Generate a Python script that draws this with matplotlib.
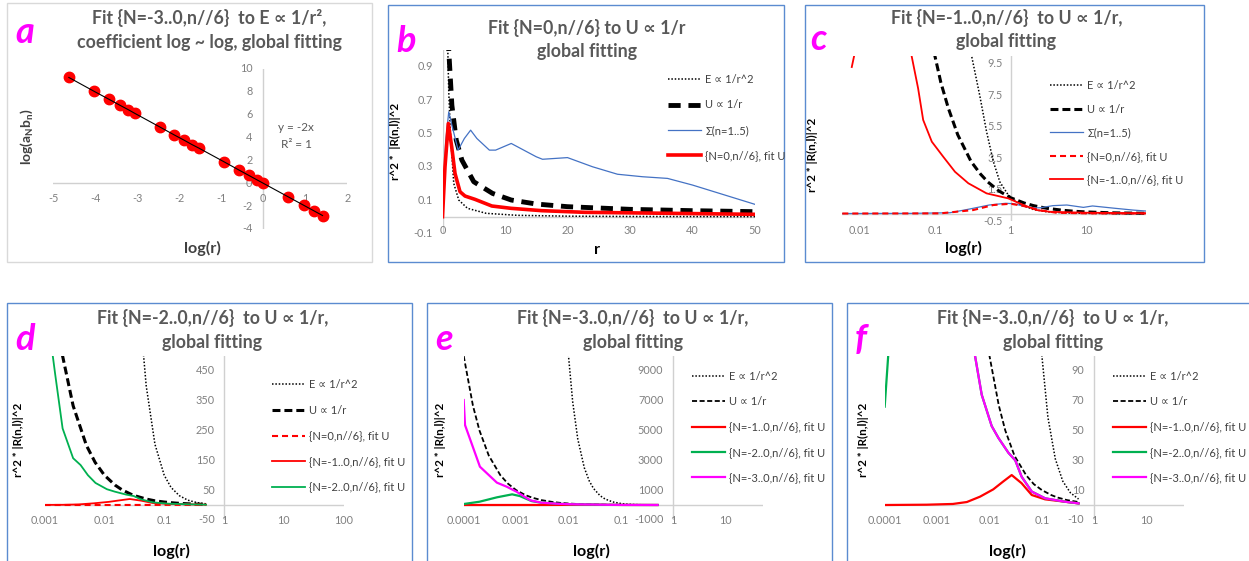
import matplotlib
matplotlib.use('Agg')
import matplotlib.pyplot as plt
from matplotlib.patches import Rectangle

W, H = 1249, 561
plt.rcParams['font.family'] = ['Lato', 'DejaVu Sans']
plt.rcParams['mathtext.fontset'] = 'custom'
plt.rcParams['mathtext.rm'] = 'Lato'
plt.rcParams['mathtext.bf'] = 'Lato:bold'
plt.rcParams['mathtext.it'] = 'Lato:italic'

TICK = '#808080'
TITLE = '#595959'
LEG = '#404040'
AXLINE = '#D0D0D0'
RED, GREEN, MAG, BLUE = '#FF0000', '#00B050', '#FF00FF', '#4472C4'

# ---- panel a : log(a_N b_n) vs log(r)
a_logr = [-4.63, -4.04, -3.67, -3.41, -3.22, -3.06, -2.47, -2.13, -1.89, -1.70,
          -1.53, -0.93, -0.58, -0.35, -0.15, 0.00, 0.60, 0.96, 1.20, 1.41]
a_logab = [9.26, 8.07, 7.34, 6.82, 6.45, 6.12, 4.94, 4.25, 3.78, 3.39,
           3.07, 1.87, 1.16, 0.70, 0.30, 0.00, -1.20, -1.92, -2.40, -2.82]
a_xticks = [-5, -4, -3, -2, -1, 0, 1, 2]
a_yticks = [-4, -2, 0, 2, 4, 6, 8, 10]

# ---- panel b : linear r
b_r_e = [0.6, 0.85, 1.0, 1.27, 1.8, 2.6, 4, 7, 12, 20, 30, 50]
b_e = [1.6, 1.0, 0.75, 0.5, 0.2, 0.1, 0.05, 0.02, 0.008, 0.003, 0.001, 0.0]
b_r_u = [0.7, 1.0, 1.5, 2.2, 3.1, 5, 8, 11, 15, 20, 30, 40, 50]
b_u = [1.4, 1.0, 0.67, 0.46, 0.34, 0.21, 0.14, 0.10, 0.076, 0.06, 0.044, 0.036, 0.03]
b_r_s = [0, 0.5, 1.0, 1.5, 2.5, 3.5, 4.5, 5.5, 7.5, 8.5, 11, 13, 15, 16, 20, 24, 28, 32, 36, 40, 50]
b_s = [0, 0.45, 0.63, 0.55, 0.40, 0.47, 0.52, 0.47, 0.40, 0.40, 0.44, 0.40, 0.36, 0.345,
       0.355, 0.30, 0.255, 0.24, 0.23, 0.19, 0.074]
b_r_fit = [0, 0.4, 0.93, 1.47, 2.0, 2.8, 3.6, 5.2, 7.9, 11, 15.9, 22.8, 50]
b_fit = [0, 0.30, 0.56, 0.42, 0.26, 0.15, 0.124, 0.104, 0.064, 0.05, 0.036, 0.026, 0.014]
b_xticks = [0, 10, 20, 30, 40, 50]
b_yticks = [-0.1, 0.1, 0.3, 0.5, 0.7, 0.9]

# ---- panel c : log r, N=-1..0
c_r_e = [0.29, 0.305, 0.39, 0.48, 0.59, 0.72, 0.93, 1.3, 2, 3, 5, 10, 20, 60]
c_e = [11, 10, 7.5, 5.2, 3.3, 2.0, 1.17, 0.6, 0.25, 0.11, 0.04, 0.01, 0.003, 0.0]
c_r_u = [0.08, 0.1, 0.12, 0.15, 0.2, 0.3, 0.4, 0.5, 0.7, 1, 1.5, 2, 3, 5, 7, 10, 20, 30, 60]
c_u = [12.5, 10, 8.3, 6.7, 5, 3.3, 2.5, 2, 1.43, 1, 0.67, 0.5, 0.33, 0.2, 0.14, 0.1, 0.05, 0.033, 0.017]
c_r_s = [0.006, 0.05, 0.158, 0.29, 0.52, 0.86, 1.1, 1.6, 2.0, 2.5, 3.6, 5.5, 9.1, 12, 24, 41, 60]
c_s = [0.0, 0.01, 0.05, 0.29, 0.54, 0.65, 0.62, 0.43, 0.35, 0.37, 0.5, 0.54, 0.39, 0.48, 0.33, 0.22, 0.16]
c_r_n0 = [0.006, 0.117, 0.32, 0.59, 1.0, 1.47, 2.5, 4, 10, 60]
c_n0 = [0.0, 0.01, 0.22, 0.54, 0.62, 0.48, 0.2, 0.05, 0.01, 0.0]
c_r_n1 = [0.008, 0.01, 0.04, 0.049, 0.06, 0.07, 0.091, 0.129, 0.184, 0.276, 0.48, 0.93,
          1.47, 2.2, 3.3, 10, 60]
c_n1 = [9.3, 11.5, 14, 10.06, 7.95, 5.94, 4.56, 3.6, 2.65, 1.92, 1.28, 0.96,
        0.54, 0.22, 0.11, 0.05, 0.02]
c_yticks = [-0.5, 1.5, 3.5, 5.5, 7.5, 9.5]

# ---- panels d, e, f : shared curves
r_E = [0.009, 0.01, 0.012, 0.015, 0.02, 0.025, 0.03, 0.04, 0.05, 0.07, 0.1, 0.13, 0.18, 0.25, 0.35, 0.5]
E = [12350, 10000, 6940, 4440, 2500, 1600, 1110, 625, 400, 204, 100, 59, 31, 16, 8.2, 4.0]
r_U = [1e-4, 1.5e-4, 2e-4, 3e-4, 5e-4, 7e-4, 1e-3, 1.5e-3, 2e-3, 3e-3, 5e-3, 7e-3, 0.01,
       0.015, 0.02, 0.03, 0.05, 0.07, 0.1, 0.15, 0.2, 0.3, 0.5]
U = [10000, 6670, 5000, 3330, 2000, 1430, 1000, 667, 500, 333, 200, 143, 100,
     67, 50, 33, 20, 14, 10, 6.7, 5.0, 3.3, 2.0]
r_N0 = [0.001, 0.01, 0.1, 0.3, 0.5]
N0 = [0, 0, 0.3, 0.6, 1.0]
r_N1 = [1e-4, 6.3e-4, 2e-3, 3.7e-3, 6.6e-3, 0.0118, 0.018, 0.0265, 0.041, 0.064, 0.115, 0.275, 0.5]
N1 = [0, 0.2, 0.7, 2.0, 5.6, 10.5, 15.6, 20.1, 14.6, 6.7, 3.8, 2.2, 1.1]
r_N2 = [1e-4, 2e-4, 4.3e-4, 8.4e-4, 1.18e-3, 1.5e-3, 2e-3, 3e-3, 4e-3, 5.3e-3, 7.1e-3, 0.011,
        0.0148, 0.023, 0.031, 0.041, 0.064, 0.115, 0.275, 0.5]
N2 = [66, 220, 515, 715, 600, 440, 257, 157, 134, 100, 74, 53, 45, 35, 30, 19, 9, 4.5, 2.2, 1.1]
r_N3 = [1e-4, 1.06e-4, 2.04e-4, 4.3e-4, 6.6e-4, 1.02e-3, 1.86e-3, 3e-3, 5.3e-3, 7.1e-3, 0.011,
        0.0148, 0.023, 0.031, 0.041, 0.064, 0.115, 0.275, 0.5]
N3 = [7045, 5365, 2570, 1500, 1230, 890, 320, 157, 100, 74, 53, 45, 35, 30, 19, 9, 4.5, 2.2, 1.1]
d_yticks = [-50, 50, 150, 250, 350, 450]
e_yticks = [-1000, 1000, 3000, 5000, 7000, 9000]
f_yticks = [-10, 10, 30, 50, 70, 90]
log_ticks_c = [0.01, 0.1, 1, 10]
log_ticks_d = [0.001, 0.01, 0.1, 1, 10, 100]
log_ticks_ef = [0.0001, 0.001, 0.01, 0.1, 1, 10]

LAB_E = 'E \u221d 1/r^2'
LAB_U = 'U \u221d 1/r'
LAB_S = '\u03a3(n=1..5)'
LAB_0 = '{N=0,n//6}, fit U'
LAB_1 = '{N=-1..0,n//6}, fit U'
LAB_2 = '{N=-2..0,n//6}, fit U'
LAB_3 = '{N=-3..0,n//6}, fit U'

fig = plt.figure(figsize=(W / 100, H / 100), dpi=100)
page = fig.add_axes([0, 0, 1, 1])
page.set_xlim(0, W)
page.set_ylim(H, 0)
page.axis('off')


def add_ax(l, t, r, b, xlim, ylim, logx=False, x0=0):
    ax = fig.add_axes([l / W, 1 - b / H, (r - l) / W, (b - t) / H])
    ax.patch.set_alpha(0)
    if logx:
        ax.set_xscale('log')
    ax.set_xlim(xlim)
    ax.set_ylim(ylim)
    ax.set_axis_off()
    ax.axhline(0, color=AXLINE, lw=1, zorder=0.5)
    ax.axvline(x0, color=AXLINE, lw=1, zorder=0.5)
    return ax


def tick_labels(ax, xs, ys, x0=0, dy=-15, dx=-9, fs=7.8):
    for v in xs:
        s = ('%g' % v) if v >= 0.001 or v <= 0 else '0.0001'
        ax.annotate(s, (v, 0), xytext=(0, dy), textcoords='offset pixels', ha='center',
                    va='center', fontsize=fs, color=TICK, annotation_clip=False, zorder=1)
    for v in ys:
        ax.annotate('%g' % v, (x0, v), xytext=(dx, 0), textcoords='offset pixels', ha='right',
                    va='center', fontsize=fs, color=TICK, annotation_clip=False, zorder=1)


def legend(ax, x, y, spacing):
    ax.legend(loc='upper left', bbox_to_anchor=(x, y), bbox_transform=page.transData,
              frameon=False, fontsize=8, handlelength=3.0, handletextpad=0.35,
              labelspacing=spacing, borderpad=0, borderaxespad=0, labelcolor=LEG)


def title(x, y1, y2, l1, l2):
    page.text(x, y1, l1, ha='center', va='center', fontsize=12.8, fontweight='bold', color=TITLE)
    page.text(x, y2, l2, ha='center', va='center', fontsize=12.8, fontweight='bold', color=TITLE)


def letter(x, y, s):
    page.text(x, y, s, ha='left', va='baseline', fontsize=26, fontweight='bold',
              style='italic', color=MAG)


def ylab(x, y, s, fs=8.4):
    page.text(x, y, s, ha='center', va='center', rotation=90, fontsize=fs,
              fontweight='bold', color='black')


def xlab(x, y, s, color='black'):
    page.text(x, y, s, ha='center', va='center', fontsize=11.6, fontweight='bold', color=color)


dotted = dict(color='black', lw=1.1, ls=(0, (1, 1.2)))

# panel borders
for (x1, y1, x2, y2), ec in [((7, 3, 372, 262), '#D9D9D9'), ((388, 5, 784, 262), '#5B8BD0'),
                             ((805, 5, 1204, 262), '#5B8BD0'), ((7, 303, 412, 562), '#5B8BD0'),
                             ((427, 303, 832, 562), '#5B8BD0'), ((847, 303, 1250, 562), '#5B8BD0')]:
    page.add_patch(Rectangle((x1, y1), x2 - x1, y2 - y1, fill=False, edgecolor=ec, lw=1))

# ---------- a
ax = add_ax(53.3, 69, 347.3, 229, (-5, 2), (-4, 10))
ax.plot(a_logr, a_logab, 'o', ms=7.5, color=RED, zorder=3)
ax.plot(a_logr, a_logab, '-', color='black', lw=0.8, zorder=4)
tick_labels(ax, a_xticks, a_yticks, dy=-15, dx=-11)
page.text(295.5, 127, 'y = -2x', ha='center', va='center', fontsize=8.5, color=TITLE)
page.text(296.5, 144, 'R\u00b2 = 1', ha='center', va='center', fontsize=8.5, color=TITLE)
title(209, 18.3, 42.7, 'Fit {N=-3..0,n//6}  to E \u221d 1/r\u00b2,', 'coefficient log ~ log, global fitting')
letter(15, 43.3, 'a')
xlab(202.3, 248.3, 'log(r)', color='#404040')
page.text(27, 137, r'$\mathbf{log(a_N b_n)}$', ha='center', va='center', rotation=90,
          fontsize=10, color='#404040')

# ---------- b
ax = add_ax(442.5, 50.3, 755, 233.3, (0, 50), (-0.1, 1.0))
ax.plot(b_r_e, b_e, label=LAB_E, **dotted)
ax.plot(b_r_u, b_u, color='black', lw=3.5, ls=(0, (2.5, 1.6)), label=LAB_U)
ax.plot(b_r_s, b_s, color=BLUE, lw=0.9, label=LAB_S)
ax.plot(b_r_fit, b_fit, color=RED, lw=2.6, label=LAB_0)
tick_labels(ax, b_xticks, b_yticks, dy=-13.5, dx=-10)
legend(ax, 668, 74, 1.3)
title(587, 28.3, 51.7, 'Fit {N=0,n//6} to U \u221d 1/r', 'global fitting')
letter(396.7, 51.7, 'b')
xlab(596.7, 250, 'r')
ylab(395, 141, 'r^2 *  |R(n,l)|^2')

# ---------- c
ax = add_ax(842.3, 56, 1145.5, 221.4, (0.006, 60), (-0.5, 10), logx=True, x0=1)
ax.plot(c_r_e, c_e, label=LAB_E, **dotted)
ax.plot(c_r_u, c_u, color='black', lw=2.2, ls=(0, (2.6, 1.3)), label=LAB_U)
ax.plot(c_r_s, c_s, color=BLUE, lw=0.9, label=LAB_S)
ax.plot(c_r_n0, c_n0, color=RED, lw=1.5, ls=(0, (2.9, 1.9)), label=LAB_0)
ax.plot(c_r_n1, c_n1, color=RED, lw=1.3, label=LAB_1)
tick_labels(ax, log_ticks_c, c_yticks, x0=1, dy=-16.5, dx=-8)
legend(ax, 1050, 80, 1.13)
title(1006.3, 18.3, 41.7, 'Fit {N=-1..0,n//6}  to U \u221d 1/r,', 'global fitting')
letter(810, 50, 'c')
xlab(963.3, 248.3, 'log(r)')
ylab(812, 155, 'r^2 * |R(n,l)|^2')

# ---------- d
ax = add_ax(44.6, 356, 343.6, 519.9, (0.001, 100), (-50, 500), logx=True, x0=1)
ax.plot(r_E, E, label=LAB_E, **dotted)
ax.plot(r_U, U, color='black', lw=2.2, ls=(0, (2.6, 1.3)), label=LAB_U)
ax.plot(r_N0, N0, color=RED, lw=1.5, ls=(0, (2.9, 1.9)), label=LAB_0)
ax.plot(r_N1, N1, color=RED, lw=1.3, label=LAB_1)
ax.plot(r_N2, N2, color=GREEN, lw=1.3, label=LAB_2)
tick_labels(ax, log_ticks_d, d_yticks, x0=1, dy=-15, dx=-9)
legend(ax, 272, 379.3, 1.31)
title(212.5, 318, 342, 'Fit {N=-2..0,n//6}  to U \u221d 1/r,', 'global fitting')
letter(15, 350, 'd')
xlab(171.7, 551.7, 'log(r)')
ylab(18, 440, 'r^2 * |R(n,l)|^2')

# ---------- e and f
for l, r, ylim, yt, xc, xl, yl, lt in [
        (463.7, 762.8, (-1000, 10000), e_yticks, 633, 591, 440, 'e'),
        (884.7, 1183.8, (-10, 100), f_yticks, 1053, 1007.7, 863, 'f')]:
    ax = add_ax(l, 356, r, 519.9, (1e-4, 51), ylim, logx=True, x0=1)
    ax.plot(r_E, E, label=LAB_E, **dotted)
    ax.plot(r_U, U, color='black', lw=1.3, ls=(0, (2.8, 1.4)), label=LAB_U)
    ax.plot(r_N1, N1, color=RED, lw=1.6, label=LAB_1)
    ax.plot(r_N2, N2, color=GREEN, lw=1.6, label=LAB_2)
    ax.plot(r_N3, N3, color=MAG, lw=1.6, label=LAB_3)
    tick_labels(ax, log_ticks_ef, yt, x0=1, dy=-15, dx=-10)
    legend(ax, l + 228, 371, 1.28)
    title(xc, 318, 342, 'Fit {N=-3..0,n//6}  to U \u221d 1/r,', 'global fitting')
    letter(xc - 198, 350, lt)
    xlab(xl, 551.7, 'log(r)')
    ylab(yl, 440, 'r^2 * |R(n,l)|^2')

fig.savefig('out.png', dpi=100)
